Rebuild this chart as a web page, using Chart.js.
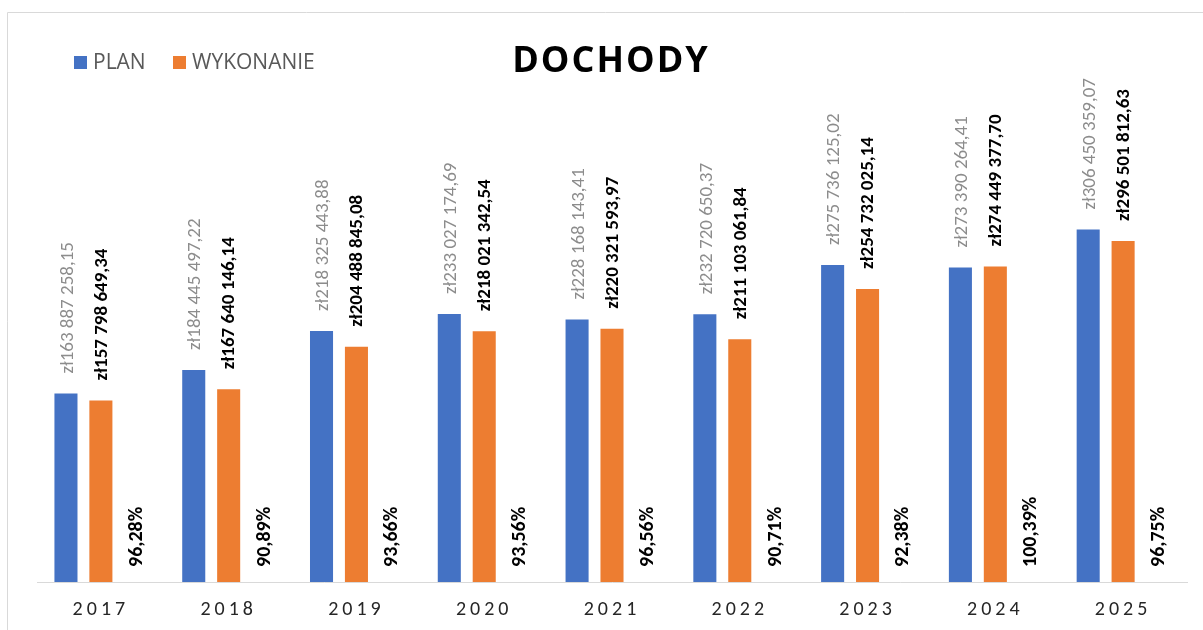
<!DOCTYPE html>
<html>
<head>
<meta charset="utf-8">
<script src="https://cdn.jsdelivr.net/npm/chart.js@4"></script>
<style>
  html, body { margin: 0; padding: 0; background: #fff; }
  #wrap { position: relative; width: 1203px; height: 630px; }
</style>
</head>
<body>
<div id="wrap"><canvas id="bar-chart"></canvas></div>
<script>
const years = ["2017", "2018", "2019", "2020", "2021", "2022", "2023", "2024", "2025"];
const plan = [
  163887258.15, 184445497.22, 218325443.88, 233027174.69, 228168143.41,
  232720650.37, 275736125.02, 273390264.41, 306450359.07,
];
const wykonanie = [
  157798649.34, 167640146.14, 204488845.08, 218021342.54, 220321593.97,
  211103061.84, 254732025.14, 274449377.7, 296501812.63,
];
const procent = [96.28, 90.89, 93.66, 93.56, 96.56, 90.71, 92.38, 100.39, 96.75];

const fontFamily = "Carlito, 'Liberation Sans Narrow', 'Open Sans', sans-serif";

const formatZl = (n) => {
  const [int, dec] = n.toFixed(2).split(".");
  return "zł" + int.replace(/\B(?=(\d{3})+(?!\d))/g, " ") + "," + dec;
};
const formatPct = (n) => n.toFixed(2).replace(".", ",") + "%";

// border, title, legend
const decorPlugin = {
  id: "decor",
  beforeDraw(chart) {
    const ctx = chart.ctx;
    ctx.save();
    ctx.strokeStyle = "#d9d9d9";
    ctx.lineWidth = 1;
    ctx.beginPath();
    ctx.moveTo(7.5, 640);
    ctx.lineTo(7.5, 12.5);
    ctx.lineTo(1210, 12.5);
    ctx.stroke();
    ctx.restore();
    // x tick letters are spaced out
    ctx.letterSpacing = "4px";
  },
  beforeDatasetsDraw(chart) {
    chart.ctx.letterSpacing = "0px";
  },
  afterDraw(chart) {
    const ctx = chart.ctx;
    ctx.save();
    ctx.letterSpacing = "2px";
    ctx.fillStyle = "#000";
    ctx.font = "bold 36px 'Open Sans'";
    ctx.textAlign = "center";
    ctx.textBaseline = "middle";
    ctx.fillText("DOCHODY", 611, 62);
    ctx.letterSpacing = "0px";

    ctx.font = "21px 'Open Sans'";
    ctx.textAlign = "left";
    const legendX = [74, 173];
    chart.data.datasets.slice(0, 2).forEach((ds, i) => {
      const x = legendX[i];
      ctx.fillStyle = ds.backgroundColor;
      ctx.fillRect(x, 56, 13, 13);
      ctx.fillStyle = "#595959";
      ctx.fillText(ds.label, x + 19, 63);
    });
    ctx.restore();
  },
};

// rotated value labels
const labelPlugin = {
  id: "barLabels",
  afterDatasetsDraw(chart) {
    const ctx = chart.ctx;
    const bottom = chart.scales.y.bottom;
    chart.data.datasets.forEach((ds, i) => {
      const meta = chart.getDatasetMeta(i);
      meta.data.forEach((bar, j) => {
        const v = ds.data[j];
        ctx.save();
        let y, text;
        if (i === 2) {
          y = bottom - 15;
          text = formatPct(v);
          ctx.font = "bold 20px " + fontFamily;
          ctx.fillStyle = "#000";
        } else {
          y = bar.y - 20;
          text = formatZl(v);
          ctx.font = (i === 1 ? "bold " : "") + "19px " + fontFamily;
          ctx.fillStyle = i === 1 ? "#000" : "#8c8c8c";
        }
        ctx.translate(bar.x + (i === 0 ? 2 : 1), y);
        ctx.rotate(-Math.PI / 2);
        ctx.textAlign = "left";
        ctx.textBaseline = "middle";
        ctx.fillText(text, 0, 0);
        ctx.restore();
      });
    });
  },
};

new Chart(document.getElementById("bar-chart"), {
  type: "bar",
  data: {
    labels: years,
    datasets: [
      {
        label: "PLAN",
        data: plan,
        backgroundColor: "#4472C4",
        categoryPercentage: 0.82,
        barPercentage: 0.66,
      },
      {
        label: "WYKONANIE",
        data: wykonanie,
        backgroundColor: "#ED7D31",
        categoryPercentage: 0.82,
        barPercentage: 0.66,
      },
      {
        label: "%",
        data: procent,
        yAxisID: "yPct",
        backgroundColor: "rgba(0,0,0,0)",
        categoryPercentage: 0.82,
        barPercentage: 0.66,
      },
    ],
  },
  options: {
    responsive: true,
    maintainAspectRatio: false,
    animation: false,
    layout: { padding: { left: 37, right: 16, top: 76, bottom: 8 } },
    plugins: {
      legend: { display: false },
      title: { display: false },
      tooltip: { enabled: false },
    },
    scales: {
      x: {
        grid: { display: false, drawTicks: false },
        border: { display: true, color: "#d9d9d9", width: 1 },
        ticks: {
          color: "#262626",
          padding: 16,
          font: { family: fontFamily, size: 20 },
        },
        afterFit: (scale) => {
          scale.height = 40;
        },
      },
      y: {
        display: false,
        min: 0,
        max: 440000000,
      },
      yPct: {
        display: false,
        min: 0,
        max: 100000,
      },
    },
  },
  plugins: [decorPlugin, labelPlugin],
});
</script>
</body>
</html>
